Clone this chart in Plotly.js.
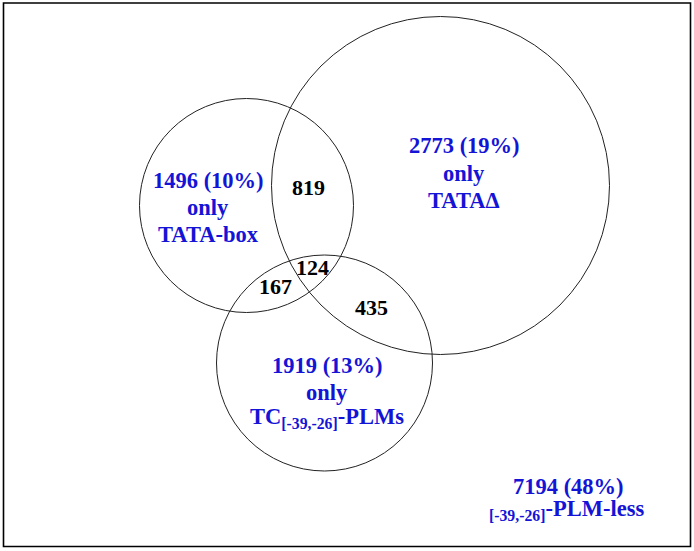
<!DOCTYPE html>
<html>
<head>
<meta charset="utf-8">
<script src="https://cdn.plot.ly/plotly-3.0.1.min.js"></script>
<style>html,body{margin:0;padding:0;background:#fff;}#chart{width:694px;height:551px;}</style>
</head>
<body>
<div id="chart"></div>
<script>
// ---- data ----
const setNames = ['TATA-box', 'TATAΔ', 'TC<sub>[-39,-26]</sub>-PLMs'];
const onlyCounts = [1496, 2773, 1919];
const onlyPercents = [10, 19, 13];
const pairLabels = ['TATA-box & TATAΔ', 'TATA-box & TC', 'TATAΔ & TC'];
const pairCounts = [819, 167, 435];
const tripleCount = 124;
const noneCount = 7194;
const nonePercent = 48;
const noneName = '<sub>[-39,-26]</sub>-PLM-less';

// ---- geometry (layout, not data) ----
const W = 694, H = 551;
const circles = [
  {cx: 246.5, cy: 205.5, r: 107},
  {cx: 440.5, cy: 185.5, r: 169},
  {cx: 324.5, cy: 363, r: 108}
];
// x center, y of each of the three lines
const onlyPos = [[208, [180, 207, 234]], [464, [145, 173, 200]], [327, [365, 392, 418]]];
const pairPos = [[308, 187], [275, 286], [371, 307]];
const triplePos = [312, 267];
const nonePos = [[568, 486], [566, 510]];

const blue = 'rgb(20,20,215)';
const fontFam = '"Liberation Serif", "Times New Roman", serif';
const blueFont = {family: fontFam, size: 22.5, color: blue, weight: 'bold'};
const blackFont = {family: fontFam, size: 22, color: '#000', weight: 'bold'};

const shapes = circles.map(c => ({
  type: 'circle', xref: 'x', yref: 'y',
  x0: c.cx - c.r, x1: c.cx + c.r, y0: c.cy - c.r, y1: c.cy + c.r,
  line: {color: '#222', width: 1}
}));
shapes.push({type: 'rect', xref: 'x', yref: 'y', x0: 3.5, x1: 690.5, y0: 3, y1: 546.5,
  line: {color: '#000', width: 1.6}});

function ann(x, y, text, font) {
  return {x: x, y: y, xref: 'x', yref: 'y', text: text, showarrow: false,
    xanchor: 'center', yanchor: 'middle', align: 'center', font: font};
}

const annotations = [];
onlyCounts.forEach((n, i) => {
  const lines = [n + ' (' + onlyPercents[i] + '%)', 'only', setNames[i]];
  lines.forEach((t, j) => annotations.push(ann(onlyPos[i][0], onlyPos[i][1][j], t, blueFont)));
});
pairCounts.forEach((n, i) => {
  annotations.push(ann(pairPos[i][0], pairPos[i][1], String(n), blackFont));
});
annotations.push(ann(triplePos[0], triplePos[1], String(tripleCount), blackFont));
annotations.push(ann(nonePos[0][0], nonePos[0][1], noneCount + ' (' + nonePercent + '%)', blueFont));
annotations.push(ann(nonePos[1][0], nonePos[1][1], noneName, blueFont));

const layout = {
  width: W, height: H,
  margin: {l: 0, r: 0, t: 0, b: 0, pad: 0},
  paper_bgcolor: '#fff', plot_bgcolor: '#fff',
  xaxis: {range: [0, W], visible: false, fixedrange: true},
  yaxis: {range: [H, 0], visible: false, fixedrange: true},
  showlegend: false,
  shapes: shapes,
  annotations: annotations
};

Plotly.newPlot('chart', [{x: [], y: [], type: 'scatter', mode: 'markers', hoverinfo: 'skip'}], layout, {staticPlot: true, displayModeBar: false});
</script>
</body>
</html>
